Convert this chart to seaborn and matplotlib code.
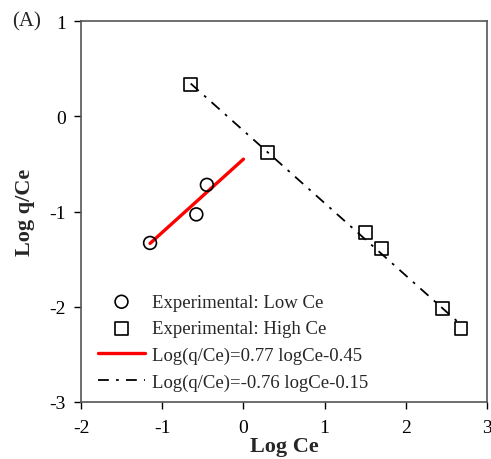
import matplotlib
matplotlib.use("Agg")
import matplotlib.pyplot as plt
import seaborn as sns
import pandas as pd

# Data
low_x = [-1.15, -0.58, -0.45]
low_y = [-1.33, -1.03, -0.72]
high_x = [-0.65, 0.30, 1.50, 1.70, 2.45, 2.68]
high_y = [0.33, -0.38, -1.22, -1.39, -2.02, -2.23]
fit_low_x = [-1.15, 0.0]
fit_low_y = [-1.335, -0.45]
fit_high_x = [-0.65, 2.68]
fit_high_y = [0.344, -2.19]
x_ticks = [-2, -1, 0, 1, 2, 3]
y_ticks = [-3, -2, -1, 0, 1]
labels = ["Experimental: Low Ce", "Experimental: High Ce",
          "Log(q/Ce)=0.77 logCe-0.45", "Log(q/Ce)=-0.76 logCe-0.15"]

sns.set_theme(style="white")
plt.rcParams['font.family'] = ['Liberation Serif', 'DejaVu Serif']

fig = plt.figure(figsize=(4.91, 4.60), dpi=100)
ax = fig.add_axes([0.165, 0.124, 0.827, 0.828])

df_low = pd.DataFrame({"x": low_x, "y": low_y})
df_high = pd.DataFrame({"x": high_x, "y": high_y})
df_fl = pd.DataFrame({"x": fit_low_x, "y": fit_low_y})
df_fh = pd.DataFrame({"x": fit_high_x, "y": fit_high_y})

sns.lineplot(data=df_fl, x="x", y="y", ax=ax, color="#ff0000", lw=2.4,
             label=labels[2], sort=False, zorder=2)
sns.lineplot(data=df_fh, x="x", y="y", ax=ax, color="black", lw=1.3,
             label=labels[3], sort=False, zorder=2, dashes=False)
ax.lines[-1].set_dashes([6, 4, 1.5, 4])
sns.scatterplot(data=df_low, x="x", y="y", ax=ax, marker="o", s=85,
                facecolor="none", edgecolor="black", linewidth=1.2,
                label=labels[0], zorder=3)
sns.scatterplot(data=df_high, x="x", y="y", ax=ax, marker="s", s=85,
                facecolor="none", edgecolor="black", linewidth=1.2,
                label=labels[1], zorder=3)

ax.set_xlim(-2, 3)
ax.set_ylim(-3, 1)
ax.set_xticks(x_ticks)
ax.set_yticks(y_ticks)
ax.set_xticklabels([str(t) for t in x_ticks], fontsize=14)
ax.set_yticklabels([str(t) for t in y_ticks], fontsize=14)
ax.tick_params(direction="out", length=5, width=1, colors="black",
               bottom=True, left=True)
ax.tick_params(axis="x", pad=7)
ax.tick_params(axis="y", pad=6)
for s in ax.spines.values():
    s.set_color("#555555")
    s.set_linewidth(1.2)
ax.set_xlabel("Log Ce", fontsize=16, fontweight="bold", labelpad=0)
ax.set_ylabel("Log q/Ce", fontsize=16, fontweight="bold", labelpad=10)

h, l = ax.get_legend_handles_labels()
order = [l.index(x) for x in labels]
ax.legend([h[i] for i in order], [l[i] for i in order], loc="lower left",
          bbox_to_anchor=(0.042, 0.03), borderaxespad=0, borderpad=0,
          frameon=False, fontsize=13.5,
          handlelength=2.5, labelspacing=0.5, handletextpad=0.4)

fig.text(0.025, 0.952, "(A)", fontsize=15, va="center", ha="left")

fig.savefig("out.png", dpi=100)
